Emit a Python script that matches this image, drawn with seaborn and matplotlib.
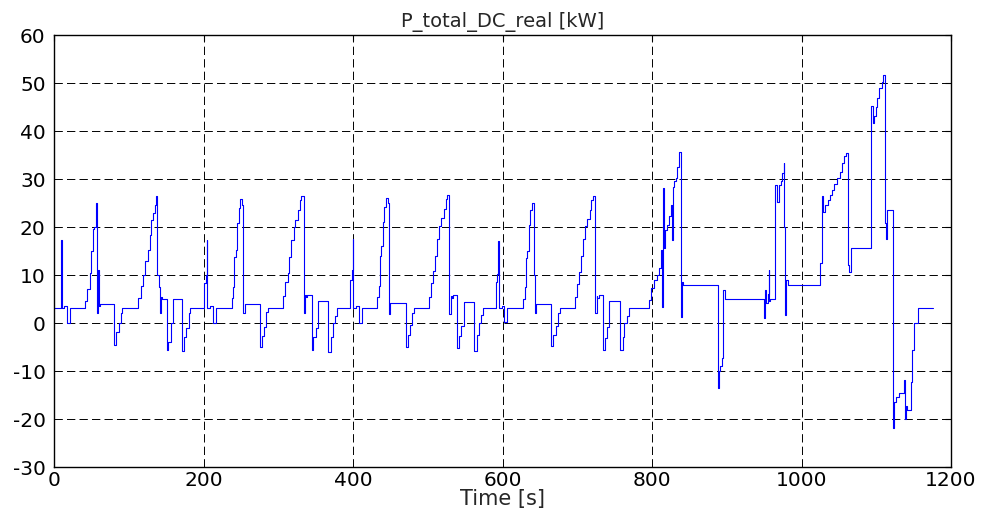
import numpy as np
import pandas as pd
import matplotlib
matplotlib.use("Agg")
import matplotlib.pyplot as plt
import seaborn as sns

# ECE-15 urban cycles (step breakpoints: time [s], power [kW])
ece1_t = [0, 9, 10, 10.7, 14, 18, 21, 42, 44, 48, 50, 52, 54, 56, 57.5, 58, 59, 60, 62,
          80, 83, 87, 89, 91, 113, 116, 119, 122, 126, 128, 130, 133, 135, 137, 138, 140,
          142, 143, 144, 151, 153, 157, 159, 171, 174, 177, 180, 182]
ece1_p = [3.2, 13.8, 17.3, 3.2, 3.6, 0, 3.2, 4.5, 7, 10.5, 15, 19.5, 20, 25, 24.5, 2, 11, 3.5, 4,
          -4.6, -1.8, 0, 2, 3.2, 5.2, 7.7, 10, 13, 15.2, 18.3, 21.5, 23, 24.6, 26.5, 10, 7.5,
          2, 5.5, 5, -5.6, -4, 0, 5, -5.9, -3, -1, 2, 3.2]

ece2_t = [195, 201, 203, 204.3, 205.3, 209, 212.5, 216.7, 237.7, 239.5, 241, 243, 245, 247, 249,
          251.5, 252.4, 253.4, 255, 275.6, 278, 281, 284, 286.7, 306.8, 309, 312.5, 315, 317,
          320.5, 323, 326.5, 329, 331, 334, 336, 337, 339, 344.7, 347, 350, 353, 367, 371, 373,
          376, 379]
ece2_p = [3.2, 8.3, 10, 17.3, 3.2, 3.5, 0, 3.2, 5.2, 7.5, 13.8, 15.2, 20.8, 24, 25.8,
          24.5, 10, 2, 4, -4.9, -2.8, -0.9, 2.3, 3.2, 5.6, 8.5, 10.5, 13.8, 17.3,
          20, 21.5, 23.5, 25.6, 26.5, 2, 5.8, 5.5, 5.8, -5.6, -3, -1, 4.5, -6, -3, 0,
          1.5, 3.2]

ece3_t = [390, 396, 398, 399.5, 400.5, 404, 407.5, 411.5, 432.5, 434.5, 436, 438, 440, 442, 444,
          446.5, 447.5, 448.5, 450, 470.5, 473, 476, 479, 481.5, 502, 504, 507.5, 510, 512,
          515.5, 518, 521.5, 524, 526, 529, 531, 532, 534, 539.5, 542, 545, 548, 562, 566, 568,
          571, 574]
ece3_p = [3.2, 9, 11, 17.6, 3.2, 3.6, 0, 3.2, 5.4, 7.8, 14, 16, 21, 24.2, 26,
          25, 10.5, 1.8, 4.1, -5, -2.5, -0.5, 2, 3.2, 5.5, 8.3, 10.8, 14, 17.5,
          20.3, 21.8, 23.7, 25.8, 26.6, 1.8, 5.6, 5.2, 5.8, -5.3, -2.8, -0.6, 4.4, -5.8, -2.6, 0,
          1.6, 3.2]

ece4_t = [585, 591, 593, 594.5, 595.5, 599, 602.5, 606.5, 627.5, 629.5, 631, 633, 635, 637, 639,
          641.5, 642.5, 643.5, 645, 665.5, 668, 671, 674, 676.5, 697, 699, 702.5, 705, 707,
          710.5, 713, 716.5, 719, 721, 724, 726, 727, 729, 734.5, 737, 740, 743, 757, 761, 763,
          766, 769]
ece4_p = [3.2, 8.5, 10.3, 17, 3.2, 3.5, 0.2, 3.2, 5, 7.4, 13.5, 15, 20.5, 23.5, 25,
          24.2, 10, 2, 4, -4.8, -2.4, -0.7, 2.1, 3.2, 5.5, 8.2, 10.6, 13.9, 17.4,
          20.2, 21.6, 23.6, 25.7, 26.5, 2, 5.7, 5.3, 5.8, -5.6, -3.1, -0.8, 4.6, -5.7, -2.9, 0,
          1.5, 3.2]

# extra-urban part
eudc_t = [780, 796, 799, 802, 806, 809, 812, 814, 814.5, 815.5, 817, 820, 823, 826, 827, 828,
          830, 832, 834, 836, 839, 840, 842, 888, 890, 891, 894, 895, 897, 950, 951, 953,
          954.5, 956, 957, 958, 965, 967.5, 970, 972.5, 974, 976, 977, 978, 979, 982, 1025,
          1027, 1029, 1032, 1035, 1038, 1041, 1044, 1047, 1051, 1054, 1057, 1060, 1062, 1064,
          1066, 1092.5, 1095, 1097, 1099, 1101, 1104, 1107, 1109, 1111, 1113, 1114, 1123,
          1124, 1127, 1131, 1137, 1138, 1140, 1141, 1146, 1148, 1151, 1156, 1176]
eudc_p = [3.1, 4.8, 7.2, 9, 10, 11.4, 15.2, 3.4, 28.1, 15.6, 19.4, 20.5, 22.3, 24.6, 17.3, 28.4,
          29.5, 30.3, 32.6, 35.7, 1.3, 8.6, 7.9, -13.6, -10.1, -9, -7.2, 6.9, 5.1, 1, 6.9, 4.2,
          6, 11, 4.5, 5.1, 28.7, 25.3, 28.7, 29.5, 31.2, 33.3, 20, 1.7, 9, 7.9, 12.5,
          26.5, 23.2, 24.5, 25.6, 26.6, 27.7, 29, 30.2, 31.5, 33.3, 34.7, 35.5, 12, 10.7,
          15.6, 45.2, 41.7, 43.2, 45, 46.9, 49, 50.3, 51.7, 20.8, 17.6, 23.5, -21.9,
          -16.4, -15.4, -14.5, -11.9, -19.9, -17.2, -18.1, -12.2, -5.6, 0, 3.1, 3.1]

df = pd.DataFrame({
    "t": ece1_t + ece2_t + ece3_t + ece4_t + eudc_t,
    "p": ece1_p + ece2_p + ece3_p + ece4_p + eudc_p,
})

sns.set_style("white")
plt.rcParams["font.family"] = ["DejaVu Sans"]
plt.rcParams["lines.scale_dashes"] = False
plt.rcParams["axes.unicode_minus"] = False

fig = plt.figure(figsize=(9.84, 5.17), dpi=100)
ax = fig.add_axes([0.0549, 0.0967, 0.9116, 0.8356])

sns.lineplot(data=df, x="t", y="p", estimator=None, sort=False,
             drawstyle="steps-post", color="#0000ff", linewidth=0.8, ax=ax)

ax.set_xlim(0, 1200)
ax.set_ylim(-30, 60)
ax.set_xticks(range(0, 1201, 200))
ax.set_yticks(range(-30, 61, 10))
ax.grid(True, color="black", linestyle=(0, (6, 3)), linewidth=0.7)
ax.tick_params(direction="in", top=True, right=True, length=4, labelsize=14.5,
               color="black", labelcolor="black")
ax.tick_params(axis="x", pad=3)
ax.tick_params(axis="y", pad=6)
for s in ax.spines.values():
    s.set_color("black")
    s.set_linewidth(1.0)

ax.set_title("P_total_DC_real [kW]", fontsize=14, pad=6)
ax.set_xlabel("Time [s]", fontsize=15, labelpad=-1)
ax.set_ylabel("")

fig.savefig("out.png", dpi=100, facecolor="white")
